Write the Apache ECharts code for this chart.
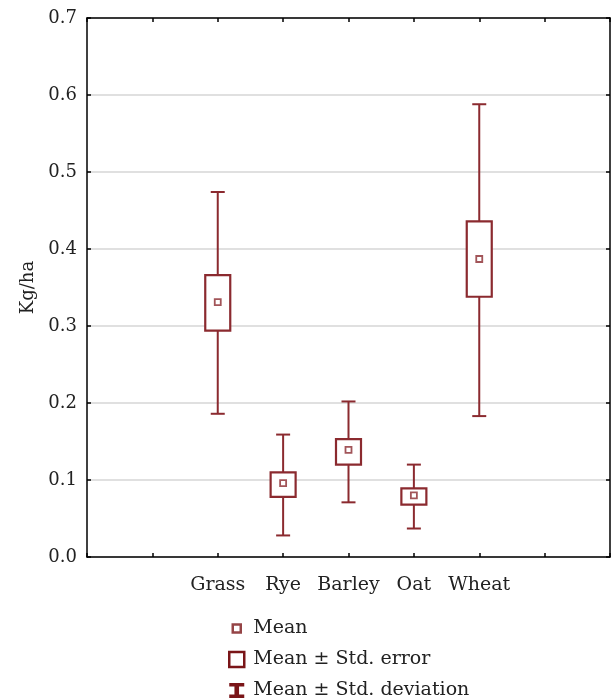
<!DOCTYPE html>
<html>
<head>
<meta charset="utf-8">
<script src="https://cdn.jsdelivr.net/npm/echarts@6/dist/echarts.min.js"></script>
<style>html,body{margin:0;padding:0;background:#fff;}#c{width:613px;height:700px;}</style>
</head>
<body>
<div id="c"></div>
<script>
const categories = ['Grass', 'Rye', 'Barley', 'Oat', 'Wheat'];
const catPositions = [2, 3, 4, 5, 6];
const means  = [0.331, 0.096, 0.139, 0.080, 0.387];
const seLow  = [0.294, 0.078, 0.120, 0.068, 0.338];
const seHigh = [0.366, 0.110, 0.153, 0.089, 0.436];
const sdLow  = [0.186, 0.028, 0.071, 0.037, 0.183];
const sdHigh = [0.474, 0.159, 0.202, 0.120, 0.588];
const yTicks = [0.0, 0.1, 0.2, 0.3, 0.4, 0.5, 0.6, 0.7];

const RED = '#8b2a2f';
const DARK = '#7a1518';
const FONT = 'DejaVu Serif';

const chart = echarts.init(document.getElementById('c'), null, {renderer: 'canvas'});

const sdData = catPositions.map((x, i) => [x, sdLow[i], sdHigh[i]]);
const seData = catPositions.map((x, i) => [x, seLow[i], seHigh[i]]);
const meanData = catPositions.map((x, i) => [x, means[i]]);

const lineStyle = {color: '#000', width: 1.5};
const tickStyle = {show: true, inside: true, length: 4, lineStyle: {color: '#000', width: 1.5}};

chart.setOption({
  animation: false,
  backgroundColor: '#fff',
  grid: {left: 87, right: 0.5, top: 18, bottom: 143, containLabel: false},
  xAxis: [
    {
      type: 'value', min: 0, max: 8, interval: 1, position: 'bottom',
      axisLine: {show: true, onZero: false, lineStyle: lineStyle},
      axisTick: tickStyle, splitLine: {show: false},
      axisLabel: {
        show: true, margin: 19, color: '#222', fontFamily: FONT, fontSize: 19,
        formatter: function (v) { const k = catPositions.indexOf(v); return k >= 0 ? categories[k] : ''; }
      }
    },
    {
      type: 'value', min: 0, max: 8, interval: 1, position: 'top',
      axisLine: {show: true, onZero: false, lineStyle: lineStyle},
      axisTick: tickStyle, splitLine: {show: false}, axisLabel: {show: false}
    }
  ],
  yAxis: [
    {
      type: 'value', min: 0, max: 0.7, interval: 0.1, position: 'left',
      name: 'Kg/ha', nameLocation: 'middle', nameGap: 49, nameRotate: 90,
      nameTextStyle: {color: '#222', fontFamily: FONT, fontSize: 18},
      axisLine: {show: true, onZero: false, lineStyle: lineStyle},
      axisTick: tickStyle,
      axisLabel: {margin: 10, color: '#222', fontFamily: FONT, fontSize: 18,
        formatter: function (v) { return yTicks.find(t => Math.abs(t - v) < 1e-6).toFixed(1); }},
      splitLine: {show: true, lineStyle: {color: '#d6d6d6', width: 1.5}}
    },
    {
      type: 'value', min: 0, max: 0.7, interval: 0.1, position: 'right',
      axisLine: {show: true, onZero: false, lineStyle: lineStyle},
      axisTick: tickStyle, axisLabel: {show: false}, splitLine: {show: false}
    }
  ],
  legend: {
    orient: 'vertical', left: 223, top: 614, height: 150, itemGap: 12, itemWidth: 15, itemHeight: 15,
    textStyle: {color: '#222', fontFamily: FONT, fontSize: 19, padding: [0, 0, 0, 4]},
    data: [
      {name: 'Mean', icon: 'path://M0,0 M15,15 M3.5,3.5 L11.5,3.5 L11.5,11.5 L3.5,11.5 Z',
        itemStyle: {color: '#fff', borderColor: DARK, borderWidth: 2.5}},
      {name: 'Mean ± Std. error', icon: 'path://M1,1 L14,1 L14,14 L1,14 Z',
        itemStyle: {color: '#fff', borderColor: DARK, borderWidth: 2.5}},
      {name: 'Mean ± Std. deviation', icon: 'path://M1,1 L14,1 L14,4 L9.5,4 L9.5,11 L14,11 L14,14 L1,14 L1,11 L5.5,11 L5.5,4 L1,4 Z',
        itemStyle: {color: DARK, borderWidth: 0}}
    ]
  },
  series: [
    {
      name: 'Mean ± Std. deviation', type: 'custom', data: sdData, z: 2,
      itemStyle: {color: DARK},
      encode: {x: 0, y: [1, 2]},
      renderItem: function (params, api) {
        const x = api.value(0);
        const lo = api.coord([x, api.value(1)]);
        const hi = api.coord([x, api.value(2)]);
        const hw = 7;
        const st = {stroke: RED, lineWidth: 2, fill: null};
        return {type: 'group', children: [
          {type: 'line', shape: {x1: lo[0], y1: lo[1], x2: hi[0], y2: hi[1]}, style: st},
          {type: 'line', shape: {x1: lo[0] - hw, y1: lo[1], x2: lo[0] + hw, y2: lo[1]}, style: st},
          {type: 'line', shape: {x1: hi[0] - hw, y1: hi[1], x2: hi[0] + hw, y2: hi[1]}, style: st}
        ]};
      }
    },
    {
      name: 'Mean ± Std. error', type: 'custom', data: seData, z: 3,
      itemStyle: {color: DARK},
      encode: {x: 0, y: [1, 2]},
      renderItem: function (params, api) {
        const x = api.value(0);
        const lo = api.coord([x, api.value(1)]);
        const hi = api.coord([x, api.value(2)]);
        const hw = 12.5;
        return {type: 'rect', shape: {x: lo[0] - hw, y: hi[1], width: hw * 2, height: lo[1] - hi[1]},
          style: {fill: '#fff', stroke: RED, lineWidth: 2.2}};
      }
    },
    {
      name: 'Mean', type: 'scatter', data: meanData, z: 4,
      symbol: 'rect', symbolSize: 6,
      itemStyle: {color: '#fff', borderColor: RED, borderWidth: 1.8}
    }
  ]
});
</script>
</body>
</html>
